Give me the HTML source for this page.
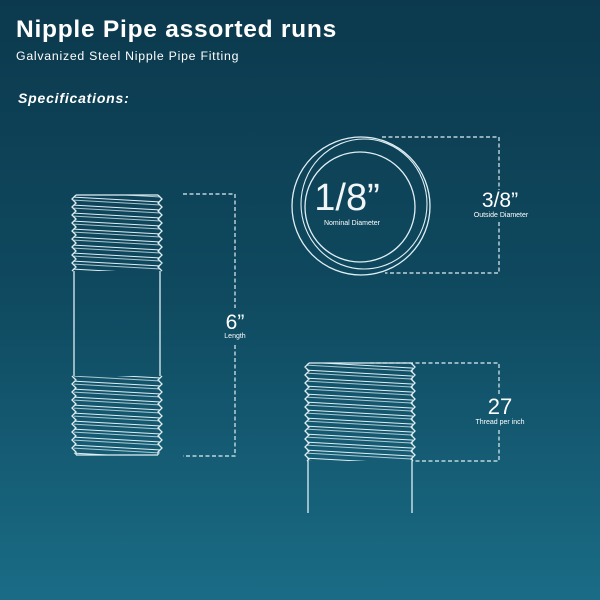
<!DOCTYPE html>
<html><head><meta charset="utf-8"><style>
html,body{margin:0;padding:0;width:600px;height:600px;overflow:hidden}
body{background:linear-gradient(180deg,#0c394d 0%,#0f4a60 50%,#1a6c86 100%);font-family:"Liberation Sans",sans-serif}
svg{position:absolute;left:0;top:0}
</style></head><body>
<svg width="600" height="600" viewBox="0 0 600 600" xmlns="http://www.w3.org/2000/svg">
<defs>
<pattern id="th" width="200" height="8" patternUnits="userSpaceOnUse" patternTransform="skewY(3.2)">
<line x1="0" y1="1" x2="200" y2="1" stroke="#dfeff4" stroke-width="1"/>
<line x1="0" y1="4" x2="200" y2="4" stroke="#dfeff4" stroke-width="0.8"/>
</pattern>
</defs>
<g font-family="Liberation Sans, sans-serif" fill="#ffffff">
<text x="16" y="37" font-size="24.5" font-weight="bold" letter-spacing="0.75">Nipple Pipe assorted runs</text>
<text x="16" y="60" font-size="12.3" letter-spacing="0.75">Galvanized Steel Nipple Pipe Fitting</text>
<text x="18" y="103" font-size="14" font-weight="bold" font-style="italic" letter-spacing="0.8">Specifications:</text>
</g>
<g fill="none" stroke="#dfeff4" stroke-width="1.3">
<rect x="74" y="195" width="86" height="76" fill="url(#th)" stroke="none"/>
<rect x="74" y="376" width="86" height="79" fill="url(#th)" stroke="none"/>
<line x1="76" y1="195" x2="158" y2="195"/>
<line x1="76" y1="455" x2="158" y2="455"/>
<polyline points="76,195 72,199 76,203 72,207 76,211 72,215 76,219 72,223 76,227 72,231 76,235 72,239 76,243 72,247 76,251 72,255 76,259 72,263 76,267 72,271"/>
<polyline points="158,195 162,199 158,203 162,207 158,211 162,215 158,219 162,223 158,227 162,231 158,235 162,239 158,243 162,247 158,251 162,255 158,259 162,263 158,267 162,271"/>
<line x1="74" y1="271" x2="74" y2="376"/>
<line x1="160" y1="271" x2="160" y2="376"/>
<polyline points="72,376 76,380 72,384 76,388 72,392 76,396 72,400 76,404 72,408 76,412 72,416 76,420 72,424 76,428 72,432 76,436 72,440 76,444 72,448 76,452 76,455"/>
<polyline points="162,376 158,380 162,384 158,388 162,392 158,396 162,400 158,404 162,408 158,412 162,416 158,420 162,424 158,428 162,432 158,436 162,440 158,444 162,448 158,452 158,455"/>
<circle cx="361" cy="206" r="69"/>
<ellipse cx="364" cy="204" rx="63" ry="65" stroke-width="1.1"/>
<circle cx="360" cy="207" r="55"/>
<rect x="307" y="363" width="106" height="98" fill="url(#th)" stroke="none"/>
<line x1="309" y1="363" x2="411" y2="363"/>
<polyline points="309,363 305,367 309,371 305,375 309,379 305,383 309,387 305,391 309,395 305,399 309,403 305,407 309,411 305,415 309,419 305,423 309,427 305,431 309,435 305,439 309,443 305,447 309,451 305,455 309,459 307,461"/>
<polyline points="411,363 415,367 411,371 415,375 411,379 415,383 411,387 415,391 411,395 415,399 411,403 415,407 411,411 415,415 411,419 415,423 411,427 415,431 411,435 415,439 411,443 415,447 411,451 415,455 411,459 413,461"/>
<line x1="308" y1="461" x2="308" y2="513"/>
<line x1="412" y1="461" x2="412" y2="513"/>
</g>
<g fill="none" stroke="#dfeff4" stroke-width="1.2" stroke-dasharray="4,2.5">
<polyline points="183,194 235,194 235,308"/>
<polyline points="235,345 235,456 183,456"/>
<polyline points="382,137 499,137 499,190"/>
<polyline points="499,222 499,273 385,273"/>
<polyline points="370,363 499,363 499,394"/>
<polyline points="499,430 499,461 415,461"/>
</g>
<g font-family="Liberation Sans, sans-serif" fill="#ffffff" text-anchor="middle">
<text x="235" y="329" font-size="21">6”</text>
<text x="235" y="338" font-size="7">Length</text>
<text x="347" y="210" font-size="38" fill-opacity="0.95">1/8”</text>
<text x="352" y="225" font-size="7">Nominal Diameter</text>
<text x="500" y="207" font-size="21">3/8”</text>
<text x="501" y="217" font-size="7">Outside Diameter</text>
<text x="500" y="414" font-size="22">27</text>
<text x="500" y="424" font-size="7">Thread per inch</text>
</g>
</svg>
</body></html>
